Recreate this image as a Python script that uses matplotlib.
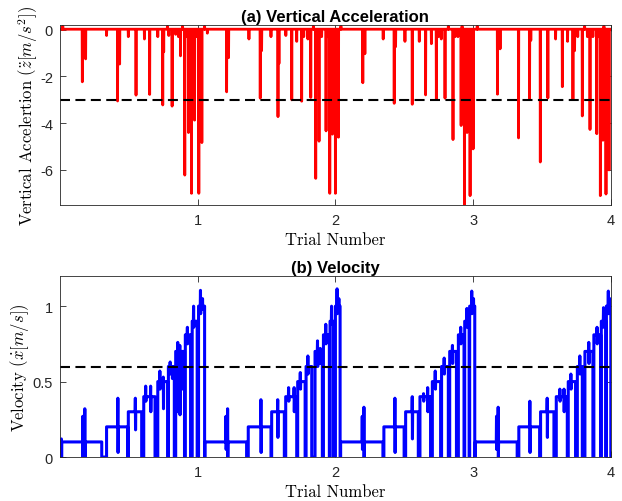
import numpy as np
import matplotlib.pyplot as plt

plt.rcParams['mathtext.fontset'] = 'cm'
plt.rcParams['axes.unicode_minus'] = False
plt.rcParams['font.family'] = ['Liberation Sans', 'DejaVu Sans']

# (a) vertical acceleration: spike positions (trial number) and their depths
acc_x = [0.162, 0.186, 0.418, 0.433, 0.552, 0.651, 0.746, 0.753, 0.814, 0.875,
         0.906, 0.933, 0.955, 0.977, 1.008, 1.030,
         1.210, 1.224, 1.454, 1.464, 1.583, 1.590, 1.683, 1.755, 1.821, 1.857,
         1.881, 1.932, 1.959, 1.978, 2.000, 2.022,
         2.199, 2.214, 2.427, 2.437, 2.558, 2.655, 2.733, 2.796, 2.854, 2.913,
         2.937, 2.956, 2.978, 3.000,
         3.177, 3.196, 3.330, 3.410, 3.419, 3.488, 3.543, 3.648, 3.725, 3.737,
         3.793, 3.849, 3.898, 3.924, 3.943, 3.965, 3.987]
acc_depth = [-2.23, -1.25, -3.05, -1.47, -2.8, -2.77, -3.22, -0.95, -3.27, -1.12,
             -6.22, -4.4, -7.0, -3.87, -7.0, -4.83,
             -2.66, -1.2, -2.93, -0.9, -3.72, -1.45, -3.0, -3.06, -2.9, -6.36,
             -4.77, -4.33, -7.0, -4.47, -7.0, -4.6,
             -2.27, -1.03, -3.15, -0.73, -3.19, -2.79, -2.97, -2.93, -4.7, -4.1,
             -7.5, -4.4, -7.1, -5.1,
             -2.76, -0.82, -4.63, -2.97, -0.46, -5.66, -2.92, -2.44, -2.97, -0.9,
             -3.69, -4.27, -4.45, -7.1, -4.73, -7.03, -6.0]
# small wiggles on the baseline
acc_small_x = [0.02, 0.338, 0.496, 0.613, 0.71, 0.78, 0.79, 0.84, 0.86, 0.89,
               0.92, 0.945, 0.99, 1.02, 1.05, 1.07,
               1.372, 1.532, 1.64, 1.719, 1.77, 1.80, 1.84, 1.87, 1.90, 1.945, 2.04,
               2.347, 2.505, 2.609, 2.697, 2.75, 2.769, 2.82, 2.87, 2.89, 2.92, 3.03,
               3.599, 3.686, 3.76, 3.81, 3.83, 3.87, 3.91, 3.95, 3.98]
acc_small = [0.15, -0.25, -0.3, -0.4, -0.3, 0.15, -0.25, -0.2, -0.3, 0.15,
             -0.3, -0.25, -0.3, -0.2, 0.15, -0.15,
             -0.4, -0.3, -0.25, -0.5, -0.3, -0.4, 0.15, -0.3, -0.3, -0.3, 0.15,
             -0.4, -0.5, -0.5, -0.6, -0.3, -0.4, 0.15, -0.3, -0.3, 0.15, 0.15,
             -0.4, -0.5, -0.3, 0.15, -0.3, -0.3, -0.3, 0.15, -0.3]
acc_base = 0.02
acc_limit = -3.0

# (b) velocity: speed stages (start, end, level) and spikes (x, high, low)
vel_start = [0.0, 0.338, 0.496, 0.608, 0.71, 0.787, 0.84, 0.91, 0.96, 1.006,
             1.053, 1.367, 1.537, 1.639, 1.726, 1.787, 1.852, 1.913, 1.961, 2.0,
             2.038, 2.352, 2.51, 2.614, 2.704, 2.771, 2.83, 2.893, 2.939, 2.975,
             3.016, 3.332, 3.49, 3.604, 3.691, 3.757, 3.812, 3.877, 3.931, 3.968]
vel_end = [0.303, 0.491, 0.593, 0.69, 0.782, 0.83, 0.904, 0.948, 0.996, 1.05,
           1.355, 1.532, 1.629, 1.719, 1.78, 1.828, 1.905, 1.956, 1.985, 2.034,
           2.345, 2.499, 2.602, 2.691, 2.764, 2.82, 2.879, 2.934, 2.971, 3.012,
           3.32, 3.483, 3.587, 3.684, 3.744, 3.793, 3.87, 3.926, 3.963, 4.0]
vel_level = [0.1, 0.2, 0.3, 0.4, 0.5, 0.6, 0.7, 0.81, 0.9, 1.0,
             0.1, 0.2, 0.3, 0.4, 0.5, 0.6, 0.7, 0.81, 0.9, 1.0,
             0.1, 0.2, 0.3, 0.4, 0.5, 0.6, 0.7, 0.81, 0.9, 1.0,
             0.1, 0.2, 0.3, 0.4, 0.5, 0.6, 0.7, 0.81, 0.9, 1.0]
vel_spk_x = [0.01, 0.165, 0.18, 0.42, 0.547, 0.622, 0.658, 0.725, 0.75, 0.80, 0.815,
             0.855, 0.87, 0.885, 0.925, 0.97, 1.02, 1.035,
             1.205, 1.217, 1.459, 1.581, 1.66, 1.70, 1.745, 1.80, 1.87, 1.89, 1.93,
             1.972, 2.012, 2.025,
             2.195, 2.207, 2.432, 2.558, 2.64, 2.67, 2.725, 2.79, 2.85, 2.91, 2.955,
             2.99, 3.003,
             3.17, 3.182, 3.412, 3.538, 3.63, 3.66, 3.71, 3.775, 3.84, 3.90, 3.947,
             3.982, 3.993]
vel_spk_hi = [0.12, 0.27, 0.32, 0.39, 0.39, 0.47, 0.47, 0.57, 0.53, 0.63, 0.60,
              0.76, 0.74, 0.70, 0.86, 1.0, 1.105, 1.05,
              0.27, 0.32, 0.38, 0.38, 0.46, 0.46, 0.56, 0.67, 0.77, 0.72, 0.88,
              1.0, 1.115, 1.05,
              0.27, 0.33, 0.39, 0.40, 0.42, 0.46, 0.57, 0.656, 0.74, 0.86, 0.985,
              1.10, 1.05,
              0.27, 0.33, 0.37, 0.39, 0.45, 0.45, 0.55, 0.67, 0.76, 0.86, 0.99,
              1.10, 1.05]
vel_spk_lo = [0.0, 0.0, 0.0, 0.03, 0.18, 0.37, 0.30, 0.45, 0.32, 0.55, 0.52,
              0.30, 0.28, 0.45, 0.75, 0.86, 0.95, 0.98,
              0.05, 0.0, 0.03, 0.13, 0.37, 0.30, 0.45, 0.55, 0.60, 0.62, 0.75,
              0.88, 0.95, 0.97,
              0.05, 0.0, 0.03, 0.12, 0.37, 0.30, 0.45, 0.55, 0.62, 0.75, 0.86,
              0.95, 0.97,
              0.05, 0.0, 0.03, 0.13, 0.37, 0.30, 0.45, 0.55, 0.62, 0.75, 0.86,
              0.95, 0.97]
vel_limit = 0.6

# build acceleration trace
d = 0.0015
ax_pts = [(0.0, acc_base), (4.0, acc_base)]
for x, v in zip(acc_x + acc_small_x, acc_depth + acc_small):
    ax_pts += [(x - d, acc_base), (x, v), (x + d, acc_base)]
ax_pts.sort(key=lambda p: p[0])
acc_t = np.array([p[0] for p in ax_pts])
acc_v = np.array([p[1] for p in ax_pts])

# build velocity trace
vt, vv = [], []
for s, e, lev in zip(vel_start, vel_end, vel_level):
    vt += [s, s]
    vv += [0.0, lev]
    for x, hi, lo in zip(vel_spk_x, vel_spk_hi, vel_spk_lo):
        if s < x < e:
            vt += [x - d, x, x + d, x + 2 * d]
            vv += [lev, hi, lo, lev]
    vt += [e, e]
    vv += [lev, 0.0]

fig = plt.figure(figsize=(6.22, 5.02), dpi=100)
ax1 = fig.add_axes([0.0965, 0.5896, 0.8855, 0.3586])
ax2 = fig.add_axes([0.0965, 0.0876, 0.8855, 0.3606])

lbl = dict(fontfamily='cmr10', fontsize=12)

ax1.plot(acc_t, acc_v, color='red', lw=2.0)
ax1.axhline(acc_limit, color='black', lw=1.5, ls=(0, (4.8, 2.6)))
ax1.set_xlim(0, 4)
ax1.set_ylim(-7.5, 0.2)
ax1.set_yticks([-6, -4, -2, 0])
ax1.set_title('(a) Vertical Acceleration', fontweight='bold', fontsize=12, pad=3)
ax1.set_ylabel(r'Vertical Accelertion ($\ddot{z}[m/s^2]$)', labelpad=0, **lbl)
ax1.set_xlabel('Trial Number', labelpad=3, **lbl)

ax2.plot(vt, vv, color='blue', lw=2.2)
ax2.axhline(vel_limit, color='black', lw=1.5, ls=(0, (4.8, 2.6)))
ax2.set_xlim(0, 4)
ax2.set_ylim(0, 1.2)
ax2.set_yticks([0, 0.5, 1])
ax2.set_yticklabels(['0', '0.5', '1'])
ax2.set_title('(b) Velocity', fontweight='bold', fontsize=12, pad=3)
ax2.set_ylabel(r'Velocity ($\dot{x}[m/s]$)', labelpad=1, **lbl)
ax2.set_xlabel('Trial Number', labelpad=3, **lbl)

for ax in (ax1, ax2):
    ax.set_xticks([1, 2, 3, 4])
    ax.tick_params(direction='in', top=True, right=True, length=4, width=0.6,
                   labelsize=10.5, colors='#262626', pad=6)
    ax.tick_params(axis='y', pad=5)
    for sp in ax.spines.values():
        sp.set_color('#262626')
        sp.set_linewidth(0.6)

fig.savefig('out.png', dpi=100)
